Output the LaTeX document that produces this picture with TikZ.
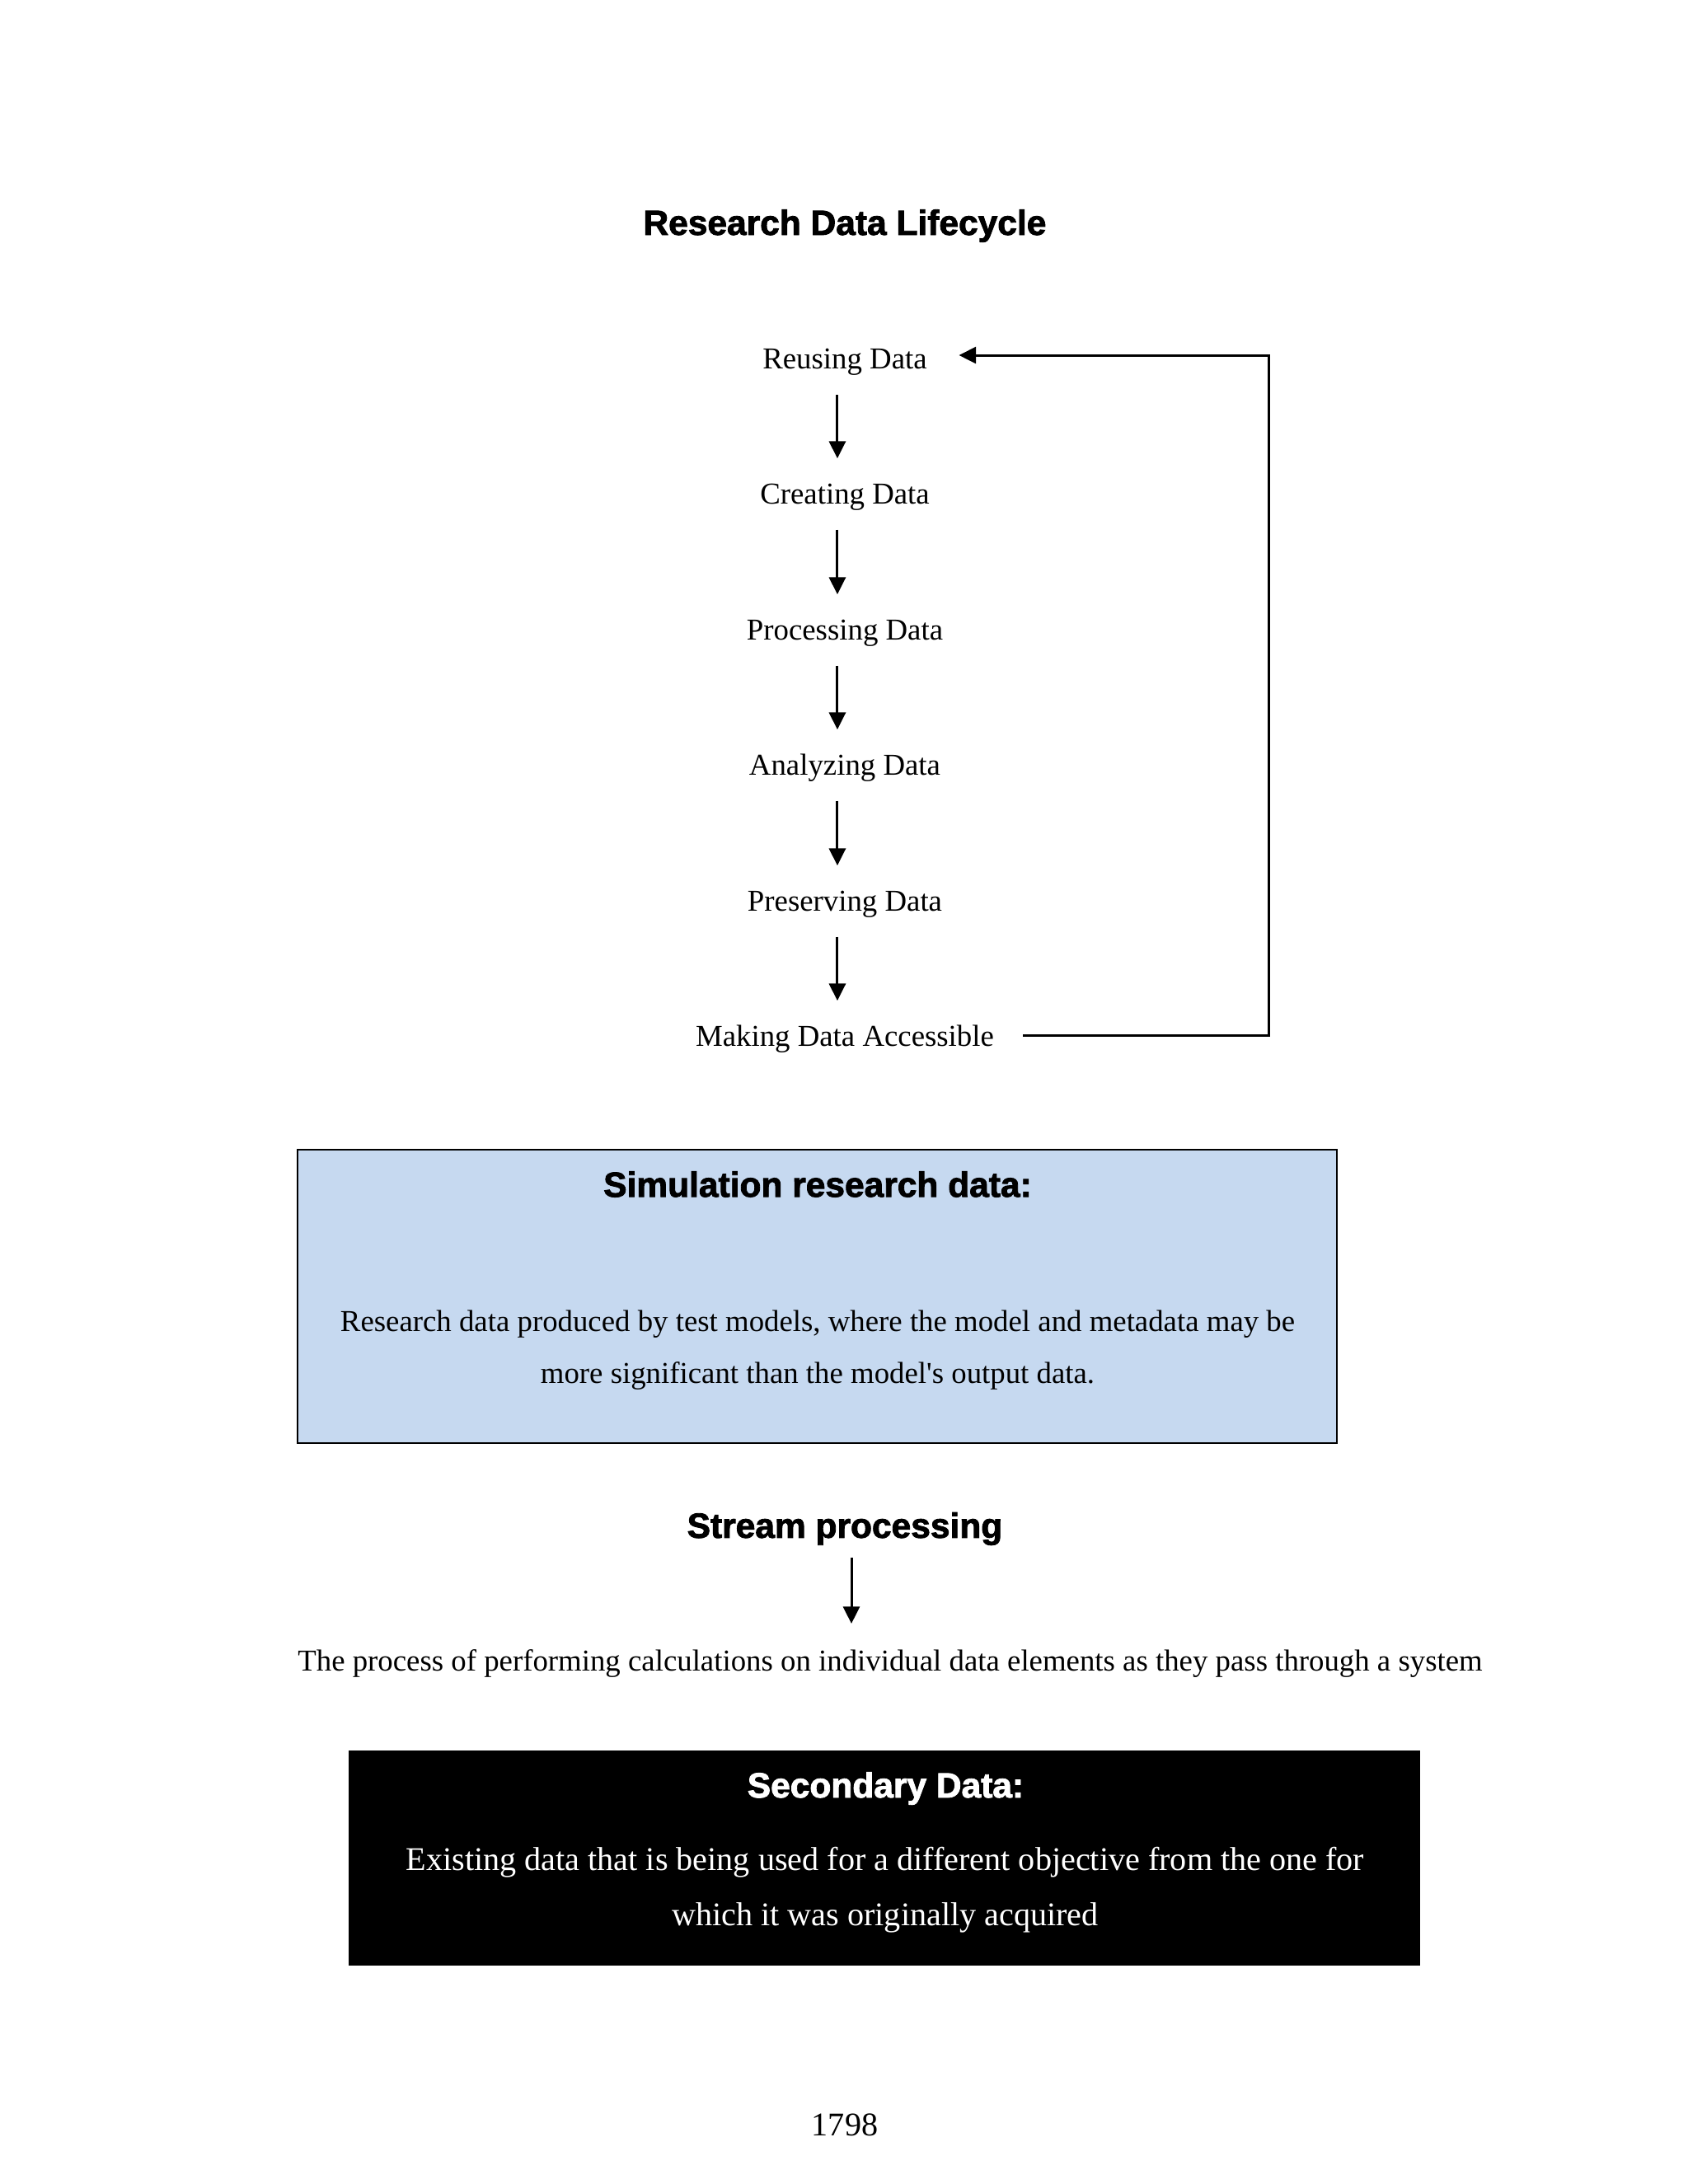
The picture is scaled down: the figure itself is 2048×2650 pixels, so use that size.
\documentclass[tikz,border=0pt]{standalone}
\usepackage{fontspec}
\setmainfont{Liberation Serif}[Ligatures=TeXOff]
\setsansfont{Liberation Sans}
\newfontfamily\headfont{Liberation Sans}[BoldFeatures={FakeBold=2}]
\usetikzlibrary{arrows.meta}
\definecolor{simblue}{RGB}{198,217,240}
\begin{document}
\begin{tikzpicture}[x=0.29883pt,y=-0.29883pt,
  arr/.style={line width=0.9pt,-{Triangle[length=6.2pt,width=6pt]}},
  boxline/.style={line width=0.7pt},
  stage/.style={font=\fontsize{11}{13}\selectfont, inner sep=0pt},
  headline/.style={font=\headfont\bfseries\fontsize{12.7}{15}\selectfont, inner sep=0pt},
  body/.style={font=\fontsize{11}{19}\selectfont, align=center, inner sep=0pt}]
\useasboundingbox[fill=white] (0,0) rectangle (2048,2650);

\node[headline] (title) at (1025,274) {Research Data Lifecycle};

\node[stage] (reuse)    at (1025,439.5) {Reusing Data};
\node[stage] (create)   at (1025,603)   {Creating Data};
\node[stage] (process)  at (1025,768)   {Processing Data};
\node[stage] (analyze)  at (1025,932)   {Analyzing Data};
\node[stage] (preserve) at (1025,1097)  {Preserving Data};
\node[stage] (access)   at (1025,1261)  {Making Data Accessible};

\draw[arr] ([xshift=-2.7pt,yshift=-11.8pt]reuse.center)    -- ([xshift=-2.7pt,yshift=14pt]create.center);
\draw[arr] ([xshift=-2.7pt,yshift=-11.8pt]create.center)   -- ([xshift=-2.7pt,yshift=14pt]process.center);
\draw[arr] ([xshift=-2.7pt,yshift=-11.8pt]process.center)  -- ([xshift=-2.7pt,yshift=14pt]analyze.center);
\draw[arr] ([xshift=-2.7pt,yshift=-11.8pt]analyze.center)  -- ([xshift=-2.7pt,yshift=14pt]preserve.center);
\draw[arr] ([xshift=-2.7pt,yshift=-11.8pt]preserve.center) -- ([xshift=-2.7pt,yshift=14pt]access.center);

\coordinate (rc) at (1539,431);
\coordinate (ac) at (1539,1256);
\draw[arr] ([xshift=10.4pt]access.east |- ac) -- (ac) -- (rc) -- ([xshift=11.4pt]reuse.east |- rc);

\node[draw, boxline, fill=simblue, minimum width=376.8pt, minimum height=106.4pt, inner sep=0pt] (simbox) at (991.5,1573) {};
\node[headline] (simtitle) at (992,1437) {Simulation research data:};
\node[body] (simtext) at (992,1638) {Research data produced by test models, where the model and metadata may be\\more significant than the model's output data.};

\node[headline] (stream) at (1025,1855) {Stream processing};
\coordinate (s1) at (1033,1890);
\coordinate (s2) at (1033,1970);
\draw[arr] (s1) -- (s2);
\node[body] (streamtext) at (1080,2018) {The process of performing calculations on individual data elements as they pass through a system};

\node[fill=black, minimum width=388.5pt, minimum height=78pt, inner sep=0pt] (secbox) at (1073,2254.5) {};
\node[headline, text=white] (sectitle) at (1074.5,2170) {Secondary Data:};
\node[body, text=white, font=\fontsize{12}{20.2}\selectfont] (sectext) at (1074,2293) {Existing data that is being used for a different objective from the one for\\which it was originally acquired};

\node[font=\fontsize{12}{14}\selectfont, inner sep=0pt] (page) at (1025,2578) {1798};
\end{tikzpicture}
\end{document}
